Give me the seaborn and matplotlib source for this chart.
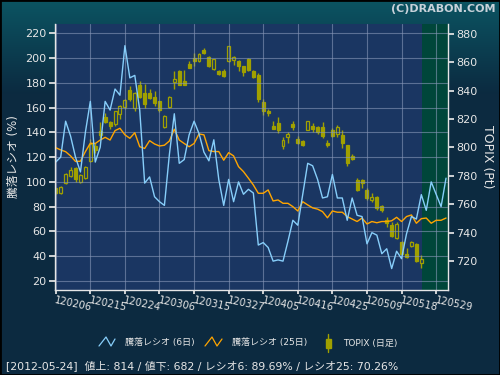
import numpy as np
import pandas as pd
import matplotlib
matplotlib.use("Agg")
import matplotlib.pyplot as plt
import seaborn as sns
from matplotlib.patches import Rectangle
from matplotlib.lines import Line2D

# --- data ---
tick_labels = ["120206", "120215", "120224", "120306", "120315", "120327",
               "120405", "120416", "120425", "120509", "120518", "120529"]
tick_pos = [0, 7, 14, 21, 28, 35, 42, 49, 56, 63, 70, 77]

ratio6 = [116, 120, 149, 137, 120, 108, 140, 165, 116, 128,
          165, 158, 175, 170, 210, 184, 186, 158, 99, 104,
          88, 84, 81, 122, 155, 115, 118, 138, 149, 139,
          124, 117, 134, 102, 81, 102, 84, 100, 90, 94,
          91, 49, 51, 47, 36, 37, 36, 52, 69, 65,
          90, 115, 113, 102, 87, 88, 106, 87, 87, 69,
          87, 73, 72, 50, 59, 57, 42, 46, 30, 44,
          38, 58, 72, 70, 89.7, 77, 100, 90, 80, 103]

ratio25 = [127.6, 125.8, 124.4, 121, 116.5, 116.7, 124.4, 131.2, 131, 133.8,
           136, 133.8, 141.4, 143.3, 138, 135.2, 139.7, 128.4, 127, 133.3,
           130.6, 129, 129.6, 133, 142.5, 133.8, 131, 128.4, 131, 138.7,
           138, 125.2, 124.5, 124.5, 117.5, 123.6, 121, 112.3, 108.3, 103,
           97.5, 90.8, 90.8, 93.5, 84.6, 85.4, 82.7, 82.7, 80, 76.5,
           84, 81.4, 79, 78, 76, 71, 76.5, 75.5, 75.5, 72,
           70, 68, 70.8, 66, 68, 67, 68, 68, 68.6, 71.4,
           68, 72, 73.3, 66.6, 70.3, 70.8, 66.6, 69, 69, 70.8]

topix_open = [770.9, 768, 775.3, 780, 784.9, 776, 778.5, 790.7, 800.4, 811.6,
              821.5, 817.5, 816.6, 824.1, 828.8, 840.5, 827.9, 843.4, 838.4, 838,
              835.5, 832.3, 814.7, 828.8, 846.4, 853.4, 846.4, 858.6, 862.9, 861.2,
              868.7, 863.6, 855.3, 853.4, 853.9, 861.2, 861.7, 860.5, 857, 861.7,
              853.9, 851.1, 832, 825.7, 814.7, 816.6, 801.3, 807.4, 815.9, 806,
              804.6, 812.8, 814.7, 813.8, 813.8, 803.2, 812.3, 809.5, 808.8, 801.1,
              794, 777.1, 777.1, 770, 763, 765.1, 758.3, 748.9, 745.4, 736.2,
              733.4, 725, 730.8, 732, 719.1]
topix_close = [768.1, 772, 781.3, 783.7, 777.8, 780.6, 786.3, 802.5, 798.2, 808.8,
               818.2, 815.2, 825.2, 828.8, 833.5, 834.2, 838.4, 835.6, 830.7, 835,
               831.6, 826.4, 822.2, 835.1, 848.1, 844.5, 844.5, 856.5, 861.2, 865.7,
               866.8, 857.7, 861.7, 851.8, 850.6, 871, 863.6, 857.4, 853.4, 854.6,
               849.7, 834.2, 826, 824.3, 813.1, 812.3, 805.3, 809.5, 814.7, 803.2,
               802, 818.2, 813.1, 811.2, 808.1, 801.8, 808.1, 813.8, 803.4, 789.1,
               791.9, 770.1, 775.2, 764.6, 764.6, 757.4, 756, 746.8, 737.9, 746.1,
               725, 722.9, 733.4, 720, 721.4]
topix_high = [771.5, 773, 782, 786, 786.5, 781.5, 787, 806, 803, 818,
              824, 818.5, 826, 830, 834, 843.6, 839, 847, 844.5, 841,
              840, 833, 823, 836, 854, 854.5, 854.6, 861, 866.4, 866.5,
              870.3, 864.5, 862.5, 854.6, 855, 871.5, 864.7, 861.7, 857.5, 863,
              854.5, 852.3, 834.2, 827, 818.9, 821.7, 807.6, 811, 818.7, 808,
              805.3, 819, 817.5, 815.2, 818.2, 805.3, 813.5, 815.9, 812.3, 801.5,
              795.4, 778.3, 777.5, 771.3, 767.7, 766, 759.5, 751.3, 747.7, 747.7,
              734.1, 729, 734.1, 732.5, 724.3]
topix_low = [767.5, 767.5, 774, 779, 776, 775, 778, 790, 796, 807,
             817, 813, 815, 820, 827, 833, 826, 835, 828, 834,
             829.5, 825, 814, 828, 841, 844, 844, 856, 857.7, 860.5,
             866, 857, 854.6, 851.3, 850, 860.5, 858.4, 854, 850.6, 854,
             849, 832.3, 823, 822.2, 812.8, 810.4, 799, 803.4, 812, 802.5,
             801.3, 812.3, 811.1, 809.3, 806.5, 800, 807.6, 807.6, 799.4, 787.2,
             791.2, 769.4, 771.3, 763, 761.8, 756, 754.8, 744.2, 737.2, 735.5,
             724.3, 722.4, 730.1, 719.5, 715.3]

status = "[2012-05-24]  値上: 814 / 値下: 682 / レシオ6: 89.69% / レシオ25: 70.26%"

# --- style ---
sns.set_theme(style="dark")
plt.rcParams["font.family"] = ["DejaVu Sans", "Noto Sans CJK JP"]

fig_bg = "#0c2a40"
plot_bg = "#1a3662"
future_bg = "#00463a"
grid_c = "#8898b8"
txt_c = "#e6e6e6"
blue_c = "#87cefa"
orange_c = "#ffa500"
candle_c = "#a0a000"

fig = plt.figure(figsize=(5, 3.75), dpi=100, facecolor=fig_bg)

# background gradient (teal at the top fading into navy)
bg = fig.add_axes([0, 0, 1, 1], zorder=-10)
rows = np.linspace(0, 1, 375)[:, None]
top = np.array([11, 84, 98]) / 255
bot = np.array([12, 42, 64]) / 255
w = np.clip(rows / 0.25, 0, 1)
grad = top * (1 - w) + bot * w
bg.imshow(np.repeat(grad[:, None, :], 10, axis=1), aspect="auto",
          extent=[0, 1, 0, 1])
bg.axis("off")

ax = fig.add_axes([0.11, 0.2267, 0.786, 0.7093])
ax2 = ax.twinx()
ax.set_zorder(ax2.get_zorder() + 1)
ax.patch.set_visible(False)
ax2.patch.set_visible(True)
ax2.set_facecolor(plot_bg)

n_days = len(ratio6)
x = np.arange(n_days)
df = pd.DataFrame({"day": x, "r6": ratio6, "r25": ratio25})

# future / shaded region
ax2.axvspan(74.1, 80, color=future_bg, zorder=0, lw=0)

# candlesticks
cx = np.arange(len(topix_open))
o = np.array(topix_open)
c = np.array(topix_close)
ax2.vlines(cx, topix_low, topix_high, color=candle_c, lw=1, zorder=2)
up = c >= o
ax2.bar(cx, np.abs(c - o) + 0.6, bottom=np.minimum(o, c) - 0.3, width=0.6,
        facecolor=np.where(up, plot_bg, candle_c), edgecolor=candle_c,
        lw=0.9, zorder=3)

# breadth ratio lines
sns.lineplot(data=df, x="day", y="r25", ax=ax, color=orange_c, lw=1)
sns.lineplot(data=df, x="day", y="r6", ax=ax, color=blue_c, lw=1)

ax.set_xlim(-0.15, 79.4)
ax.set_ylim(12.7, 227.5)
ax2.set_ylim(699.6, 887)

ax.set_yticks(range(20, 221, 20))
ax2.set_yticks(range(720, 881, 20))
ax.set_xticks(tick_pos)
ax.set_xticklabels(tick_labels, rotation=-12, ha="left", va="top",
                   rotation_mode="anchor", fontsize=7.2, color=txt_c)

ax.grid(True, color=grid_c, lw=0.8, alpha=0.6)
ax2.grid(False)

ax.tick_params(axis="y", colors=txt_c, labelsize=8, length=4, direction="out",
               left=True, pad=2)
ax.tick_params(axis="x", colors=txt_c, length=3, direction="out",
               bottom=True, pad=1)
ax2.tick_params(axis="y", colors=txt_c, labelsize=8, length=4,
                direction="out", right=True, pad=2)

for a in (ax, ax2):
    for s in a.spines.values():
        s.set_visible(False)
ax.spines["left"].set_visible(True)
ax.spines["bottom"].set_visible(True)
ax2.spines["right"].set_visible(True)
for s in (ax.spines["left"], ax.spines["bottom"], ax2.spines["right"]):
    s.set_color(txt_c)
    s.set_linewidth(1)

ax.set_xlabel("")
ax.set_ylabel("騰落レシオ (%)", color=txt_c, fontsize=8.5, labelpad=4)
ax2.set_ylabel("TOPIX (Pt)", color=txt_c, fontsize=9, rotation=270,
               labelpad=12)

fig.text(0.992, 0.99, "(C)DRABON.COM", ha="right", va="top", fontsize=8,
         weight="bold", color="#c8d2da")

# legend (drawn by hand in figure pixels)
def fx(px):
    return px / 500


def fy(py):
    return 1 - py / 375


fig.add_artist(Line2D([fx(99), fx(106), fx(111), fx(115)],
                      [fy(346), fy(337), fy(346), fy(339)],
                      color=blue_c, lw=0.9))
fig.text(fx(125), fy(343), "騰落レシオ (6日)", fontsize=6.5, color=txt_c,
         va="center")
fig.add_artist(Line2D([fx(205), fx(212), fx(217), fx(222)],
                      [fy(346), fy(337), fy(346), fy(339)],
                      color=orange_c, lw=0.9))
fig.text(fx(232), fy(343), "騰落レシオ (25日)", fontsize=6.5, color=txt_c,
         va="center")
fig.add_artist(Line2D([fx(328), fx(328)], [fy(334), fy(352)],
                      color=candle_c, lw=1))
fig.add_artist(Rectangle((fx(325.5), fy(348)), fx(5), fy(339) - fy(348),
                         facecolor=candle_c, edgecolor=candle_c,
                         transform=fig.transFigure))
fig.text(fx(343), fy(343), "TOPIX (日足)", fontsize=6.5, color=txt_c,
         va="center")

fig.text(fx(6), fy(366), status, fontsize=7.8, color=txt_c, va="center")

fig.add_artist(Rectangle((0, 0), 1, 1, transform=fig.transFigure, fill=False,
                         edgecolor="black", lw=2))

fig.savefig("out.png", dpi=100, facecolor=fig.get_facecolor())
